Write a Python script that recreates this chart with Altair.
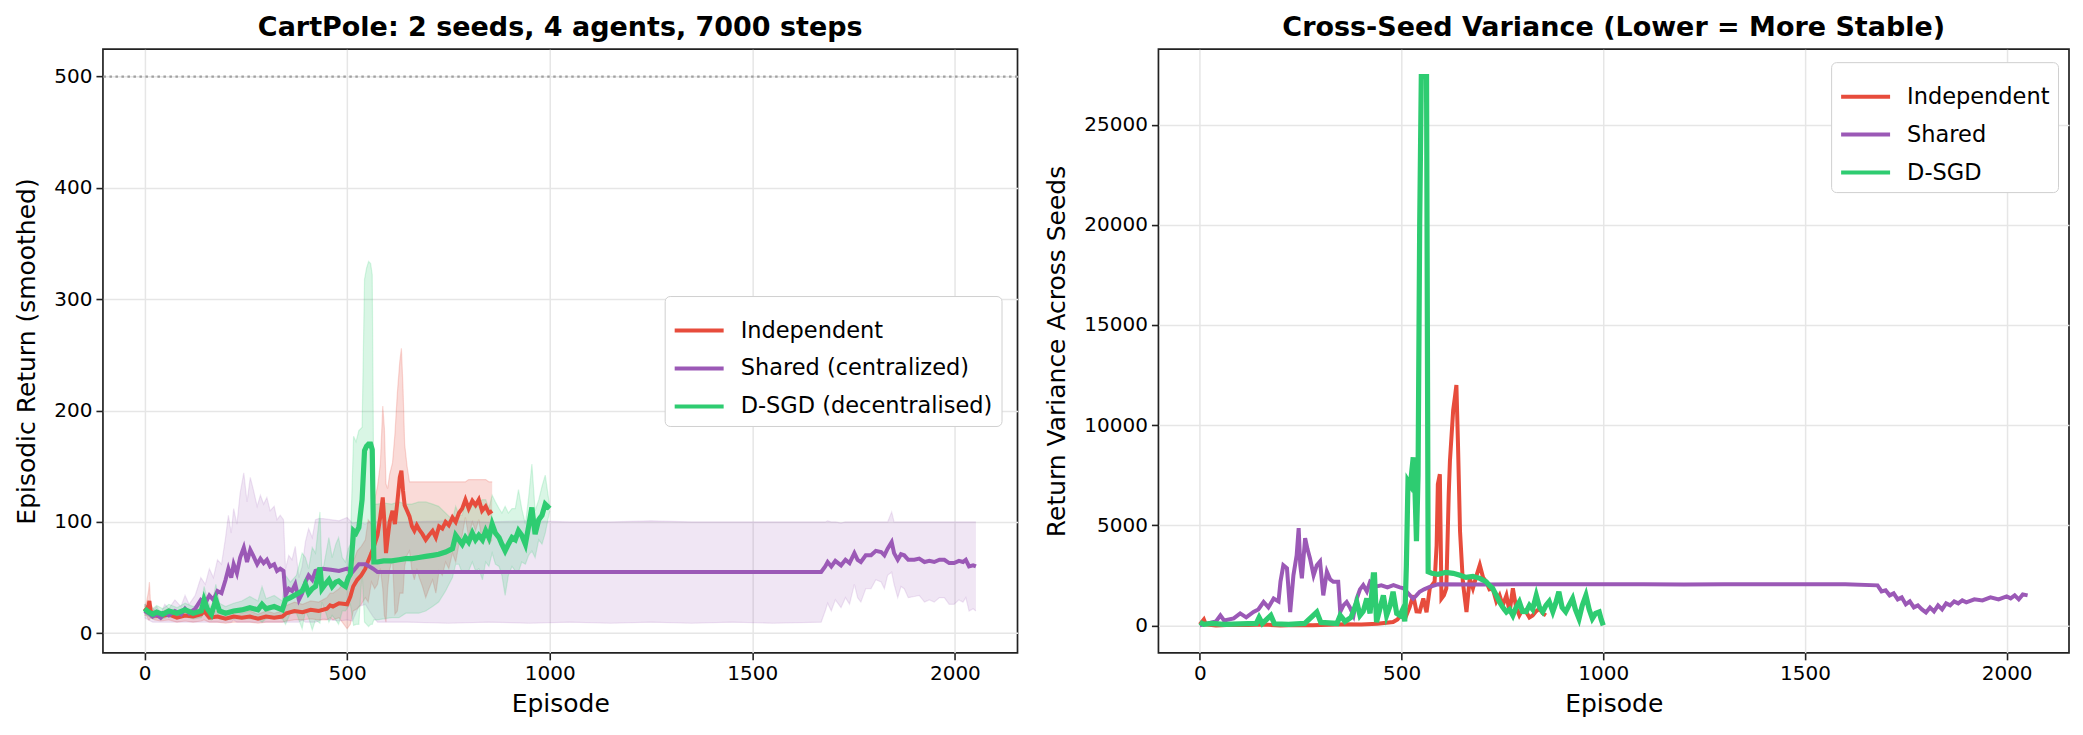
import altair as alt
import pandas as pd

FONT = "DejaVu Sans"
RED, PURPLE, GREEN = "#e74c3c", "#9b59b6", "#2ecc71"

# ---------------- Left panel: smoothed return (mean, min, max over seeds) ----------------
ind_ep = [0, 5, 10, 12, 15, 25, 40, 60, 80, 100,
          120, 140, 147, 160, 180, 200, 220, 240, 260, 280,
          300, 320, 340, 350, 370, 390, 410, 430, 450, 458,
          465, 480, 500, 508, 515, 525, 535, 545, 552, 560,
          568, 575, 582, 588, 592, 596, 600, 605, 612, 618,
          624, 630, 634, 638, 642, 648, 654, 660, 666, 672,
          678, 686, 694, 702, 711, 719, 727, 735, 743, 751,
          760, 768, 776, 784, 792, 800, 809, 817, 825, 833,
          842, 850, 858]
ind_mean = [20, 22, 25, 29, 20, 16, 15, 17, 14, 16,
            15, 17, 20, 14, 15, 13, 15, 14, 15, 13,
            15, 14, 15, 18, 20, 19, 21, 20, 22, 25,
            24, 27, 26, 33, 42, 48, 52, 58, 65, 72,
            80, 88, 105, 122, 100, 72, 85, 100, 110, 98,
            118, 140, 146, 128, 115, 110, 105, 96, 92, 97,
            93, 89, 84, 88, 92, 86, 96, 94, 100, 97,
            104, 100, 108, 112, 120, 112, 119, 115, 120, 110,
            114, 108, 110]
ind_lo = [16, 16, 12, 12, 14, 12, 11, 12, 10, 11,
          10, 11, 12, 10, 10, 9, 10, 10, 10, 9,
          10, 10, 10, 11, 12, 12, 13, 12, 12, 14,
          12, 14, 4, 8, 20, 22, 26, 32, 28, 46,
          40, 44, 58, 40, 16, 10, 40, 57, 67, 17,
          20, 36, 36, 36, 60, 70, 74, 56, 48, 58,
          50, 42, 32, 40, 48, 36, 56, 52, 64, 58,
          72, 64, 80, 88, 104, 86, 100, 92, 102, 82,
          90, 80, 84]
ind_hi = [24, 28, 38, 46, 26, 20, 19, 22, 18, 21,
          20, 23, 28, 18, 20, 17, 20, 18, 20, 17,
          20, 18, 20, 25, 28, 26, 29, 28, 32, 36,
          36, 40, 48, 58, 64, 74, 78, 84, 102, 98,
          120, 132, 152, 204, 184, 134, 130, 143, 153, 179,
          216, 244, 256, 220, 170, 150, 136, 136, 136, 136,
          136, 136, 136, 136, 136, 136, 136, 136, 136, 136,
          136, 136, 136, 136, 136, 138, 138, 138, 138, 138,
          138, 136, 136]

shr_ep = [0, 10, 20, 30, 40, 50, 60, 75, 90, 100,
          110, 125, 139, 150, 160, 170, 180, 190, 200, 207,
          214, 220, 228, 236, 245, 253, 261, 268, 278, 286,
          294, 302, 310, 320, 327, 335, 343, 348, 356, 364,
          372, 381, 389, 397, 405, 414, 422, 430, 440, 460,
          480, 500, 513, 529, 545, 555, 564, 575, 650, 750,
          850, 950, 1050, 1150, 1250, 1350, 1450, 1550, 1670, 1680,
          1686, 1695, 1705, 1719, 1730, 1740, 1752, 1760, 1768, 1780,
          1793, 1805, 1818, 1826, 1834, 1844, 1850, 1859, 1867, 1875,
          1885, 1900, 1912, 1925, 1937, 1949, 1962, 1974, 1986, 1998,
          2010, 2020, 2027, 2035, 2045, 2052]
shr_mean = [20, 18, 15, 17, 14, 18, 16, 20, 17, 22,
            18, 22, 30, 27, 34, 30, 38, 36, 48, 58,
            50, 62, 54, 68, 77, 64, 75, 70, 62, 67,
            63, 66, 60, 62, 56, 58, 56, 34, 40, 38,
            44, 30, 36, 46, 52, 48, 56, 57, 58, 57,
            56, 58, 55, 62, 62, 60, 58, 55, 55, 55,
            55, 55, 55, 55, 55, 55, 55, 55, 55, 60,
            64, 60, 65, 61, 66, 63, 72, 66, 64, 70,
            70, 74, 73, 70, 76, 82, 72, 66, 71, 70,
            66, 66, 67, 64, 65, 64, 66, 66, 63, 63,
            65, 64, 66, 60, 61, 60]
shr_lo = [14, 12, 10, 10, 10, 10, 10, 10, 10, 10,
          10, 10, 10, 10, 10, 10, 10, 10, 10, 10,
          10, 12, 10, 10, 10, 10, 10, 10, 10, 10,
          10, 10, 10, 10, 10, 10, 10, 10, 10, 10,
          10, 10, 12, 10, 10, 10, 10, 11, 13, 12,
          11, 12, 11, 24, 26, 20, 15, 10, 10, 9,
          10, 9, 10, 9, 10, 9, 10, 9, 10, 20,
          27, 20, 30, 23, 32, 26, 44, 32, 28, 40,
          40, 48, 46, 40, 52, 55, 44, 32, 42, 40,
          32, 33, 34, 28, 30, 28, 32, 32, 26, 26,
          30, 28, 32, 20, 22, 20]
shr_hi = [26, 24, 20, 24, 18, 26, 22, 30, 24, 34,
          26, 34, 50, 44, 58, 50, 66, 62, 86, 106,
          90, 112, 98, 126, 144, 118, 140, 130, 114, 124,
          116, 122, 110, 114, 102, 106, 102, 58, 70, 66,
          78, 50, 60, 82, 94, 86, 102, 103, 103, 102,
          101, 104, 99, 100, 98, 100, 101, 100, 100, 101,
          100, 101, 100, 100, 101, 100, 100, 100, 100, 100,
          101, 100, 100, 99, 100, 100, 100, 100, 100, 100,
          100, 100, 100, 100, 100, 109, 100, 100, 100, 100,
          100, 100, 100, 100, 100, 100, 100, 100, 100, 100,
          100, 100, 100, 100, 100, 100]

dsg_ep = [0, 10, 20, 30, 45, 60, 80, 100, 120, 140,
          147, 155, 165, 176, 185, 200, 220, 240, 260, 280,
          290, 300, 320, 340, 348, 360, 375, 389, 397, 405,
          414, 422, 433, 438, 446, 455, 463, 472, 479, 488,
          496, 503, 508, 516, 522, 529, 537, 543, 548, 553,
          558, 562, 566, 575, 590, 610, 628, 645, 660, 677,
          694, 711, 726, 743, 760, 768, 776, 784, 792, 800,
          809, 817, 825, 834, 842, 850, 858, 866, 875, 882,
          890, 898, 907, 915, 923, 931, 940, 948, 956, 964,
          973, 981, 989, 1000]
dsg_mean = [22, 19, 17, 19, 17, 20, 18, 21, 18, 20,
            30, 22, 17, 30, 20, 18, 20, 21, 23, 21,
            26, 22, 24, 21, 30, 32, 35, 38, 44, 36,
            40, 42, 59, 40, 44, 48, 42, 46, 47, 44,
            42, 50, 53, 92, 90, 95, 120, 164, 168, 170,
            170, 165, 64, 64, 65, 65, 66, 67, 67, 68,
            69, 70, 71, 73, 76, 88, 84, 80, 86, 82,
            90, 84, 88, 84, 92, 86, 98, 90, 86, 80,
            74, 80, 86, 84, 92, 88, 80, 96, 113, 89,
            102, 106, 116, 112]
dsg_lo = [18, 15, 13, 14, 13, 15, 13, 15, 13, 14,
          18, 14, 12, 16, 13, 12, 13, 13, 13, 13,
          10, 13, 14, 13, 8, 18, 18, 4, 20, 14,
          3, 12, 9, 28, 20, 10, 16, 12, 8, 20,
          20, 24, 26, 7, 8, 8, 55, 10, 8, 6,
          8, 8, 12, 12, 13, 14, 14, 18, 18, 18,
          20, 24, 28, 38, 50, 62, 62, 54, 54, 56,
          64, 56, 58, 48, 64, 60, 72, 62, 60, 52,
          34, 52, 60, 56, 55, 64, 62, 70, 74, 68,
          84, 80, 90, 110]
dsg_hi = [26, 24, 22, 25, 22, 26, 23, 27, 24, 26,
          42, 30, 22, 44, 27, 24, 27, 29, 33, 29,
          42, 31, 34, 29, 52, 46, 52, 72, 68, 58,
          77, 72, 109, 52, 68, 86, 68, 80, 86, 68,
          64, 76, 80, 177, 172, 182, 185, 318, 328, 334,
          332, 322, 116, 116, 117, 116, 118, 116, 116, 118,
          118, 116, 114, 108, 102, 114, 106, 106, 118, 108,
          116, 112, 118, 120, 120, 112, 124, 118, 112, 108,
          114, 108, 112, 112, 129, 112, 98, 122, 152, 110,
          120, 132, 142, 114]

# ---------------- Right panel: cross-seed variance ----------------
ind_var_ep = [0, 10, 15, 40, 80, 120, 160, 200, 240, 280,
              320, 360, 400, 440, 479, 490, 504, 512, 520, 529,
              537, 545, 554, 562, 570, 582, 587, 590, 595, 599,
              605, 611, 617, 620, 628, 633, 636, 640, 645, 652,
              661, 669, 677, 686, 694, 702, 710, 718, 726, 735,
              743, 751, 760, 768, 776, 784, 792, 800, 809, 817,
              825, 833, 842, 850, 858]
ind_var = [50, 300, 50, 0, 30, 20, 40, 0, 20, 10,
           30, 60, 40, 80, 170, 300, 670, 500, 900, 1500,
           700, 690, 1340, 660, 1850, 2180, 4000, 7050, 7550, 1340,
           1500, 1850, 6540, 8220, 10740, 11500, 12000, 9000, 4700, 2180,
           670, 2350, 1850, 2500, 3020, 2400, 2180, 1800, 1850, 1200,
           1500, 1000, 1500, 670, 1850, 900, 500, 800, 670, 400,
           500, 700, 840, 600, 500]

shr_var_ep = [0, 20, 40, 51, 60, 84, 100, 115, 133, 145,
              158, 170, 183, 195, 200, 207, 216, 224, 232, 240,
              245, 249, 253, 261, 267, 273, 282, 290, 298, 306,
              315, 323, 331, 343, 348, 356, 364, 372, 381, 389,
              397, 405, 414, 422, 430, 438, 450, 465, 480, 496,
              505, 513, 521, 529, 537, 545, 556, 570, 590, 700,
              800, 900, 1000, 1100, 1200, 1300, 1400, 1500, 1600, 1680,
              1690, 1700, 1710, 1720, 1730, 1740, 1750, 1760, 1770, 1780,
              1790, 1800, 1810, 1820, 1830, 1840, 1850, 1860, 1870, 1880,
              1890, 1900, 1920, 1940, 1960, 1980, 2000, 2010, 2020, 2030,
              2040, 2052]
shr_var = [0, 100, 200, 500, 250, 350, 600, 400, 670, 800,
           1170, 900, 1340, 1200, 2200, 3000, 2850, 670, 2500, 3500,
           4860, 3000, 2350, 4360, 3800, 3360, 2500, 3000, 3190, 1500,
           2680, 2300, 2180, 2180, 670, 1000, 1170, 900, 500, 1340,
           1800, 2010, 1700, 2180, 2050, 1950, 2000, 1900, 2010, 1900,
           1850, 1680, 1500, 1340, 1500, 1680, 1800, 1930, 2050, 2040,
           2060, 2050, 2060, 2050, 2040, 2060, 2050, 2060, 2050, 2000,
           1700, 1750, 1500, 1600, 1300, 1400, 1050, 1200, 900, 1000,
           800, 650, 900, 700, 1000, 800, 1100, 1000, 1200, 1100,
           1250, 1150, 1300, 1250, 1400, 1300, 1450, 1350, 1500, 1300,
           1550, 1500]

dsg_var_ep = [0, 10, 30, 60, 100, 140, 147, 155, 176, 185,
              220, 260, 290, 300, 340, 348, 360, 375, 389, 397,
              405, 414, 422, 430, 433, 438, 446, 455, 463, 472,
              479, 488, 496, 503, 508, 512, 516, 522, 529, 533,
              537, 541, 545, 549, 562, 566, 575, 590, 610, 628,
              645, 660, 677, 694, 710, 718, 726, 735, 743, 751,
              760, 768, 776, 784, 792, 800, 809, 817, 825, 834,
              842, 850, 858, 866, 875, 882, 890, 898, 907, 915,
              924, 931, 940, 948, 957, 965, 973, 981, 990, 995,
              1000]
dsg_var = [150, 50, 100, 50, 80, 100, 400, 100, 500, 80,
           50, 100, 670, 150, 100, 500, 200, 400, 1170, 500,
           700, 1340, 600, 2520, 2520, 170, 800, 1500, 500, 1000,
           1680, 600, 500, 800, 200, 3000, 7200, 7000, 8390, 7000,
           4200, 7500, 20000, 27400, 27400, 2680, 2600, 2550, 2650, 2600,
           2500, 2400, 2450, 2350, 2180, 2000, 1850, 1500, 1170, 900,
           670, 800, 500, 900, 1170, 700, 690, 1000, 800, 1500,
           900, 680, 1000, 1200, 690, 1100, 1680, 900, 680, 1000,
           1340, 800, 336, 1000, 1500, 800, 340, 600, 670, 300,
           0]

left_names = ["Independent", "Shared (centralized)", "D-SGD (decentralised)"]
right_names = ["Independent", "Shared", "D-SGD"]
colors = [RED, PURPLE, GREEN]


def band_frame(ep, mean, lo, hi, name):
    assert len(ep) == len(mean) == len(lo) == len(hi), name
    return pd.DataFrame({"Episode": ep, "mean": mean, "lo": lo, "hi": hi, "series": name})


def var_frame(ep, val, name):
    assert len(ep) == len(val), name
    return pd.DataFrame({"Episode": ep, "var": val, "series": name})


left_frames = [band_frame(ind_ep, ind_mean, ind_lo, ind_hi, left_names[0]),
               band_frame(shr_ep, shr_mean, shr_lo, shr_hi, left_names[1]),
               band_frame(dsg_ep, dsg_mean, dsg_lo, dsg_hi, left_names[2])]
right_frames = [var_frame(ind_var_ep, ind_var, right_names[0]),
                var_frame(shr_var_ep, shr_var, right_names[1]),
                var_frame(dsg_var_ep, dsg_var, right_names[2])]

x_scale = alt.Scale(domain=[-102.6, 2154.6], nice=False, zero=False)
x_axis = alt.Axis(values=[0, 500, 1000, 1500, 2000], format="d", title="Episode")
X = alt.X("Episode:Q", scale=x_scale, axis=x_axis)

yl_scale = alt.Scale(domain=[-17.6, 524.6], nice=False, zero=False)
yl_axis = alt.Axis(values=[0, 100, 200, 300, 400, 500], format="d",
                   title="Episodic Return (smoothed)")
yr_scale = alt.Scale(domain=[-1370, 28770], nice=False, zero=False)
yr_axis = alt.Axis(values=[0, 5000, 10000, 15000, 20000, 25000], format="d",
                   title="Return Variance Across Seeds")


def legend(x, y):
    return alt.Legend(title=None, orient="none", legendX=x, legendY=y,
                      symbolType="stroke", symbolSize=2400, symbolStrokeWidth=4,
                      labelFont=FONT, labelFontSize=22.5, labelColor="black",
                      labelLimit=500, labelOffset=15, rowPadding=-8, padding=8,
                      strokeColor="#d0d0d0", fillColor="white", cornerRadius=5)


band_opac = [0.2, 0.15, 0.18]
widths = [4, 4, 5.2]

left_layers = [
    alt.Chart(pd.DataFrame({"y": [500]})).mark_rule(
        color="#a0a0a0", strokeDash=[2.5, 3.5], strokeWidth=2.2
    ).encode(y=alt.Y("y:Q", scale=yl_scale, axis=yl_axis))
]
for df, c, op in zip(left_frames, colors, band_opac):
    base = alt.Chart(df)
    left_layers.append(base.mark_area(color=c, opacity=op, clip=True).encode(
        x=X, y=alt.Y("hi:Q", scale=yl_scale, axis=yl_axis), y2="lo:Q"))
    left_layers.append(base.mark_line(color=c, opacity=op, strokeWidth=1.2, clip=True).encode(
        x=X, y=alt.Y("hi:Q", scale=yl_scale, axis=yl_axis)))
    left_layers.append(base.mark_line(color=c, opacity=op, strokeWidth=1.2, clip=True).encode(
        x=X, y=alt.Y("lo:Q", scale=yl_scale, axis=yl_axis)))
left_cscale = alt.Scale(domain=left_names, range=colors)
for df, w in zip(left_frames, widths):
    left_layers.append(alt.Chart(df).mark_line(strokeWidth=w, clip=True).encode(
        x=X, y=alt.Y("mean:Q", scale=yl_scale, axis=yl_axis),
        color=alt.Color("series:N", scale=left_cscale, legend=legend(562, 247))))

left = alt.layer(*left_layers).properties(
    width=915, height=604,
    title=alt.Title("CartPole: 2 seeds, 4 agents, 7000 steps"))

right_cscale = alt.Scale(domain=right_names, range=colors)
right_layers = []
for df, w in zip(right_frames, widths):
    right_layers.append(alt.Chart(df).mark_line(strokeWidth=w, clip=True).encode(
        x=X, y=alt.Y("var:Q", scale=yr_scale, axis=yr_axis),
        color=alt.Color("series:N", scale=right_cscale, legend=legend(673, 13))))

right = alt.layer(*right_layers).properties(
    width=911, height=604,
    title=alt.Title("Cross-Seed Variance (Lower = More Stable)"))

chart = alt.hconcat(left, right, spacing=24, background="white").resolve_scale(
    color="independent", x="independent", y="independent"
).resolve_legend(color="independent").configure_view(
    stroke="#222222", strokeWidth=1.7
).configure_axis(
    grid=True, gridColor="#e6e6e6", gridWidth=1.5, domain=False,
    tickColor="#222222", tickSize=7, tickWidth=1.6,
    labelFont=FONT, labelFontSize=20, labelColor="black", labelPadding=4,
    titleFont=FONT, titleFontSize=25, titleFontWeight="normal", titleColor="black",
    titlePadding=14
).configure_axisX(titlePadding=8).configure_title(
    font=FONT, fontSize=27, fontWeight="bold", color="black", offset=7, anchor="middle"
)

chart.save("out.html", embed_options={"renderer": "svg", "actions": False})
